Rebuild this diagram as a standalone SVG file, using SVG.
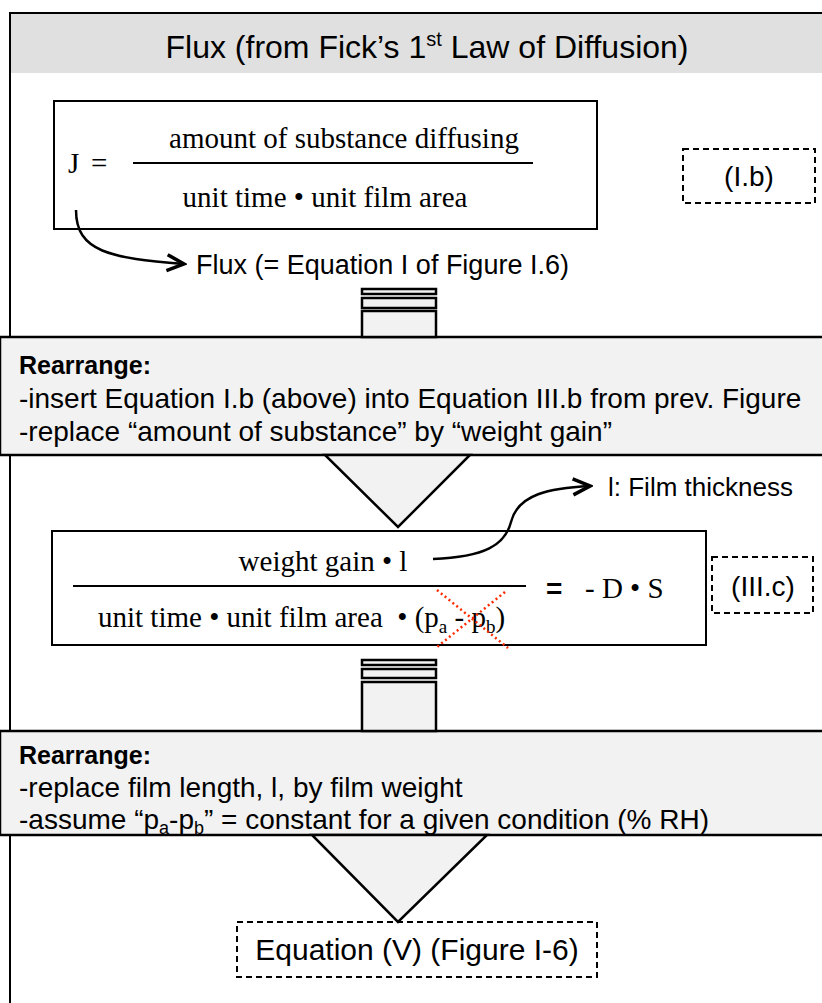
<svg xmlns="http://www.w3.org/2000/svg" width="822" height="1003" viewBox="0 0 822 1003">
<defs>
<style>
.sans{font-family:"Liberation Sans",Arial,sans-serif;fill:#000}
.serif{font-family:"Liberation Serif","Times New Roman",serif;fill:#000}
.box{fill:#fff;stroke:#000;stroke-width:2}
.dash{fill:#fff;stroke:#000;stroke-width:2;stroke-dasharray:6 4}
.band{fill:#f2f2f2;stroke:#000;stroke-width:2.5}
.conn{fill:#f2f2f2;stroke:#000;stroke-width:2.5}
.line{stroke:#000;stroke-width:2;fill:none}
.arrow{stroke:#000;stroke-width:2.5;fill:none}
.cross{stroke:#ff2a00;stroke-width:2.5;stroke-dasharray:2 3;fill:none}
</style>
<marker id="chev" viewBox="0 0 22 20" refX="19" refY="10" markerWidth="22" markerHeight="20" markerUnits="userSpaceOnUse" orient="auto">
<polyline points="2,2 19,10 2,18" fill="none" stroke="#000" stroke-width="3.5"/>
</marker>
</defs>
<rect x="0" y="0" width="822" height="1003" fill="#fff"/>
<g id="frame">
<rect x="10" y="13" width="900" height="1100" fill="#fff" stroke="#000" stroke-width="2"/>
<rect x="11" y="14" width="811" height="59" fill="#e0e0e0"/>
<text class="sans" x="427" y="58" font-size="32" text-anchor="middle">Flux (from Fick’s 1<tspan font-size="20" dy="-12">st</tspan><tspan dy="12"> Law of Diffusion)</tspan></text>
</g>
<g id="eq1">
<rect class="box" x="54" y="101" width="543" height="128"/>
<text class="serif" x="68" y="173" font-size="29">J</text>
<text class="serif" x="91" y="173" font-size="29">=</text>
<line class="line" x1="133" y1="163" x2="533" y2="163"/>
<text class="serif" x="344" y="148" font-size="29" text-anchor="middle">amount of substance diffusing</text>
<text class="serif" x="325" y="207" font-size="29" text-anchor="middle">unit time • unit film area</text>
</g>
<g id="label-Ib">
<rect class="dash" x="683" y="149" width="132" height="54"/>
<text class="sans" x="749" y="186" font-size="28" text-anchor="middle">(I.b)</text>
</g>
<g id="flux-label">
<text class="sans" x="196" y="274" font-size="27">Flux (= Equation I of Figure I.6)</text>
</g>
<g id="step1">
<rect class="band" x="0" y="337" width="830" height="118"/>
<text class="sans" x="19" y="374" font-size="25" font-weight="bold">Rearrange:</text>
<text class="sans" x="19" y="408" font-size="28">-insert Equation I.b (above) into Equation III.b from prev. Figure</text>
<text class="sans" x="19" y="441" font-size="28">-replace “amount of substance” by “weight gain”</text>
</g>
<g id="eq2">
<rect class="box" x="52" y="531" width="654" height="114"/>
<line class="line" x1="73" y1="586" x2="526" y2="586"/>
<text class="serif" x="323" y="571" font-size="29" text-anchor="middle">weight gain • l</text>
<text class="serif" x="98" y="627" font-size="29">unit time • unit film area&#160; • (p<tspan font-size="19" dy="6">a</tspan><tspan dy="-6"> - p</tspan><tspan font-size="19" dy="6">b</tspan><tspan dy="-6">)</tspan></text>
<text class="sans" x="546" y="598" font-size="28" font-weight="bold">=</text>
<text class="serif" x="585" y="598" font-size="29">- D • S</text>
<path class="cross" d="M437 590 L508 648 M505 592 L437 647"/>
</g>
<g id="label-IIIc">
<rect class="dash" x="712" y="557" width="101" height="56"/>
<text class="sans" x="763" y="596" font-size="28" text-anchor="middle">(III.c)</text>
</g>
<g id="film-label">
<text class="sans" x="608" y="496" font-size="26">l: Film thickness</text>
</g>
<g id="step2">
<rect class="band" x="0" y="731" width="830" height="104"/>
<text class="sans" x="19" y="764" font-size="25" font-weight="bold">Rearrange:</text>
<text class="sans" x="19" y="797" font-size="28">-replace film length, l, by film weight</text>
<text class="sans" x="19" y="829" font-size="28">-assume “p<tspan font-size="18" dy="5">a</tspan><tspan dy="-5">-p</tspan><tspan font-size="18" dy="5">b</tspan><tspan dy="-5">” = constant for a given condition (% RH)</tspan></text>
</g>
<g id="result">
<rect class="dash" x="237" y="922" width="360" height="55"/>
<text class="sans" x="417" y="960" font-size="30" text-anchor="middle">Equation (V) (Figure I-6)</text>
</g>
<g id="connectors">
<path class="arrow" d="M76 210 C76 252 110 258 184 264" marker-end="url(#chev)"/>
<path class="arrow" d="M433 559 C485 557 505 545 511 522 C518 494 550 488 590 486" marker-end="url(#chev)"/>
<rect class="conn" x="362" y="289" width="74" height="5"/>
<rect class="conn" x="362" y="298" width="74" height="10"/>
<rect class="conn" x="362" y="311" width="74" height="26"/>
<polygon class="conn" points="325,455 470,455 398,527"/>
<rect class="conn" x="362" y="660" width="74" height="5"/>
<rect class="conn" x="362" y="669" width="74" height="9"/>
<rect class="conn" x="362" y="682" width="74" height="49"/>
<polygon class="conn" points="312,835 487,835 398,922"/>
</g>
</svg>
